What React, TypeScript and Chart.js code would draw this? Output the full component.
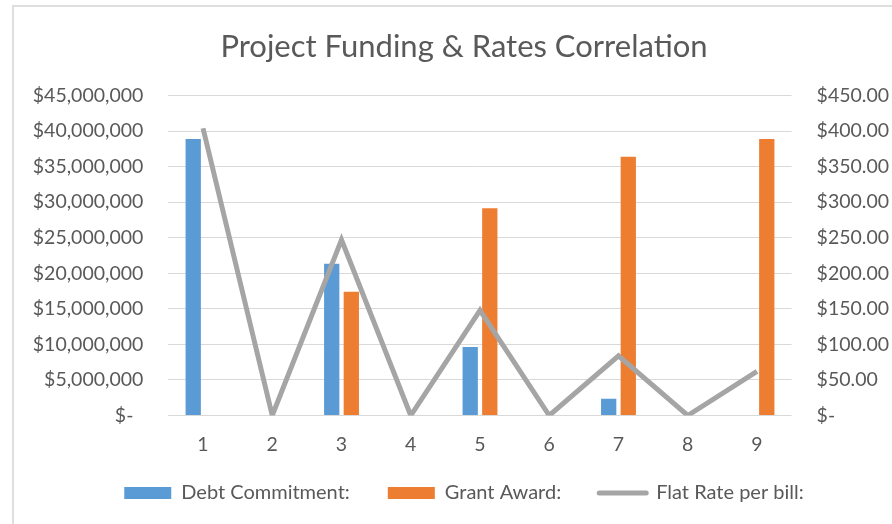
import React, { useEffect, useRef } from 'react';
import { Chart, registerables } from 'chart.js';

Chart.register(...registerables);

const categories = ['1', '2', '3', '4', '5', '6', '7', '8', '9'];
const debtCommitment = [38900000, null, 21350000, null, 9650000, null, 2350000, null, null];
const grantAward = [null, null, 17400000, null, 29150000, null, 36400000, null, 38900000];
const flatRate = [404, 0, 247, 0, 148, 0, 84, 0, 62];
const seriesLabels = ['Debt Commitment:', 'Grant Award:', 'Flat Rate per bill:'];
const chartTitle = 'Project Funding & Rates Correlation';

const FONT = 'Lato, "Open Sans", sans-serif';
const TEXT = '#595959';
const TICK_SIZE = 19.5;

export default function App() {
  const ref = useRef<HTMLCanvasElement | null>(null);

  useEffect(() => {
    if (!ref.current) return;
    const chart = new Chart(ref.current, {
      type: 'bar',
      data: {
        labels: categories,
        datasets: [
          {
            type: 'bar',
            label: seriesLabels[0],
            data: debtCommitment,
            backgroundColor: '#5B9BD5',
            yAxisID: 'y',
            order: 1,
            categoryPercentage: 0.566,
            barPercentage: 0.78,
          },
          {
            type: 'bar',
            label: seriesLabels[1],
            data: grantAward,
            backgroundColor: '#ED7D31',
            yAxisID: 'y',
            order: 1,
            categoryPercentage: 0.566,
            barPercentage: 0.78,
          },
          {
            type: 'line',
            label: seriesLabels[2],
            data: flatRate,
            borderColor: '#A5A5A5',
            backgroundColor: '#A5A5A5',
            borderWidth: 5,
            pointRadius: 0,
            pointHoverRadius: 0,
            tension: 0,
            yAxisID: 'y1',
            order: 0,
          } as any,
        ],
      },
      options: {
        animation: false,
        responsive: false,
        maintainAspectRatio: false,
        layout: { padding: { top: 0, left: 8, right: 0, bottom: 11 } },
        plugins: {
          title: {
            display: true,
            text: chartTitle,
            color: TEXT,
            font: { family: FONT, size: 31, weight: 'normal' },
            padding: { top: 28.4, bottom: 29.9 },
          },
          legend: {
            display: true,
            position: 'bottom',
            labels: {
              color: TEXT,
              font: { family: FONT, size: 20 },
              usePointStyle: true,
              pointStyleWidth: 47,
              boxHeight: 12,
              padding: 38,
              generateLabels: (c: any) =>
                c.data.datasets.map((ds: any, i: number) => {
                  const isLine = ds.type === 'line';
                  const col = isLine ? ds.borderColor : ds.backgroundColor;
                  return {
                    text: ds.label,
                    fillStyle: col,
                    strokeStyle: col,
                    lineWidth: isLine ? 5 : 0,
                    lineCap: 'round',
                    pointStyle: isLine ? 'line' : 'rect',
                    hidden: false,
                    datasetIndex: i,
                    fontColor: TEXT,
                  };
                }),
            },
          },
          tooltip: { enabled: false },
        },
        scales: {
          x: {
            grid: { display: false },
            border: { display: false },
            ticks: {
              color: TEXT,
              font: { family: FONT, size: TICK_SIZE },
              mirror: true,
              padding: -41.2,
            },
            afterFit: (s: any) => {
              s.height = 29.5;
            },
          },
          y: {
            position: 'left',
            min: 0,
            max: 45000000,
            grid: { color: '#D9D9D9', lineWidth: 1, drawTicks: false },
            border: { display: false },
            ticks: {
              stepSize: 5000000,
              color: TEXT,
              padding: 25,
              font: { family: FONT, size: TICK_SIZE },
              callback: (v: any) => (Number(v) === 0 ? '$-  ' : '$' + Number(v).toLocaleString('en-US')),
            },
            afterFit: (s: any) => {
              s.width = 148.4;
            },
          },
          y1: {
            position: 'right',
            min: 0,
            max: 450,
            grid: { display: false, drawTicks: false },
            border: { display: false },
            ticks: {
              stepSize: 50,
              color: TEXT,
              padding: 25,
              font: { family: FONT, size: TICK_SIZE },
              callback: (v: any) => (Number(v) === 0 ? '$-' : '$' + Number(v).toFixed(2)),
            },
            afterFit: (s: any) => {
              s.width = 116.4;
            },
          },
        },
      },
    });
    return () => chart.destroy();
  }, []);

  return (
    <div
      style={{
        position: 'fixed',
        left: 0,
        top: 0,
        width: 892,
        height: 524,
        overflow: 'hidden',
        background: '#ffffff',
      }}
    >
      <div
        style={{
          position: 'absolute',
          left: 12,
          top: 5,
          width: 1000,
          height: 1000,
          border: '2px solid #DEDEDE',
          boxSizing: 'border-box',
        }}
      />
      <canvas
        ref={ref}
        width={896}
        height={524}
        style={{ position: 'absolute', left: 12, top: 0, width: 896, height: 524 }}
      />
    </div>
  );
}
